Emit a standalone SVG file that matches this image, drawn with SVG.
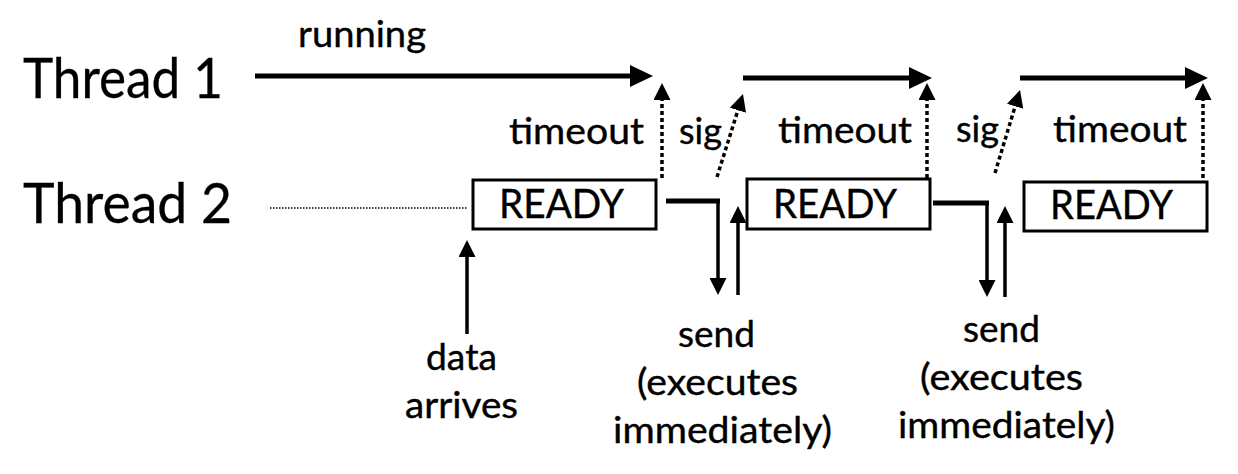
<svg xmlns="http://www.w3.org/2000/svg" width="1238" height="474" viewBox="0 0 1238 474">
  <style>
    text { font-family: Lato, "Open Sans", "Liberation Sans", sans-serif; fill: #000; stroke: #000; stroke-width: 0.4; }
    .lane { font-size: 56px; stroke-width: 0.3; }
    .lbl { font-size: 36px; }
    .rt { font-size: 40px; }
    .box { fill: #fff; stroke: #000; stroke-width: 3; }
    .run { stroke: #000; stroke-width: 5; fill: none; }
    .solid { stroke: #000; stroke-width: 3.5; fill: none; }
    .thick { stroke: #000; stroke-width: 5; fill: none; }
    .dot { stroke: #000; stroke-width: 3.5; stroke-dasharray: 4 3; fill: none; }
    .thin { stroke: #000; stroke-width: 1.3; stroke-dasharray: 1.5 1.5; fill: none; }
  </style>
  <defs>
    <marker id="bigHead" markerUnits="userSpaceOnUse" markerWidth="23" markerHeight="22" refX="2" refY="11" orient="auto" viewBox="0 0 23 22">
      <path d="M0,0 L23,11 L0,22 z" fill="#000"/>
    </marker>
    <marker id="head" markerUnits="userSpaceOnUse" markerWidth="17" markerHeight="17" refX="2" refY="8.5" orient="auto" viewBox="0 0 17 17">
      <path d="M0,0 L17,8.5 L0,17 z" fill="#000"/>
    </marker>
  </defs>

  <g id="lane-thread1">
    <text class="lane" x="23" y="98" textLength="200" lengthAdjust="spacingAndGlyphs">Thread 1</text>
  </g>
  <g id="lane-thread2">
    <text class="lane" x="23" y="223" textLength="209" lengthAdjust="spacingAndGlyphs">Thread 2</text>
  </g>

  <g id="ready1">
    <rect class="box" x="473" y="180" width="183" height="49"/>
    <text class="rt" x="499" y="218" textLength="125" lengthAdjust="spacingAndGlyphs">READY</text>
  </g>
  <g id="ready2">
    <rect class="box" x="747" y="179" width="183" height="50"/>
    <text class="rt" x="773" y="218" textLength="124" lengthAdjust="spacingAndGlyphs">READY</text>
  </g>
  <g id="ready3">
    <rect class="box" x="1024" y="182" width="183" height="49"/>
    <text class="rt" x="1050" y="219" textLength="123" lengthAdjust="spacingAndGlyphs">READY</text>
  </g>

  <g id="labels">
    <text class="lbl" x="298" y="47" textLength="128" lengthAdjust="spacingAndGlyphs">running</text>
    <text class="lbl" x="509" y="144" textLength="135" lengthAdjust="spacingAndGlyphs">timeout</text>
    <text class="lbl" x="679" y="144" textLength="43" lengthAdjust="spacingAndGlyphs">sig</text>
    <text class="lbl" x="778" y="143" textLength="134" lengthAdjust="spacingAndGlyphs">timeout</text>
    <text class="lbl" x="956" y="142" textLength="43" lengthAdjust="spacingAndGlyphs">sig</text>
    <text class="lbl" x="1053" y="142" textLength="134" lengthAdjust="spacingAndGlyphs">timeout</text>
  </g>

  <g id="data-arrives">
    <text class="lbl" x="426" y="370" textLength="71" lengthAdjust="spacingAndGlyphs">data</text>
    <text class="lbl" x="405" y="418" textLength="113" lengthAdjust="spacingAndGlyphs">arrives</text>
  </g>
  <g id="send1">
    <text class="lbl" x="678" y="347" textLength="77" lengthAdjust="spacingAndGlyphs">send</text>
    <text class="lbl" x="637" y="395" textLength="161" lengthAdjust="spacingAndGlyphs">(executes</text>
    <text class="lbl" x="613" y="443" textLength="219" lengthAdjust="spacingAndGlyphs">immediately)</text>
  </g>
  <g id="send2">
    <text class="lbl" x="963" y="342" textLength="77" lengthAdjust="spacingAndGlyphs">send</text>
    <text class="lbl" x="920" y="390" textLength="163" lengthAdjust="spacingAndGlyphs">(executes</text>
    <text class="lbl" x="898" y="438" textLength="217" lengthAdjust="spacingAndGlyphs">immediately)</text>
  </g>

  <g id="connectors">
    <line class="run" x1="255" y1="76" x2="632" y2="76" marker-end="url(#bigHead)"/>
    <line class="run" x1="743" y1="78" x2="911" y2="78" marker-end="url(#bigHead)"/>
    <line class="run" x1="1020" y1="78" x2="1187" y2="78" marker-end="url(#bigHead)"/>
    <line class="dot" x1="662" y1="178" x2="662" y2="98" marker-end="url(#head)"/>
    <line class="dot" x1="927" y1="178" x2="927" y2="98" marker-end="url(#head)"/>
    <line class="dot" x1="1203" y1="178" x2="1203" y2="98" marker-end="url(#head)"/>
    <line class="dot" x1="717" y1="177" x2="738.5" y2="108.3" marker-end="url(#head)"/>
    <line class="dot" x1="995" y1="173" x2="1015.7" y2="104.4" marker-end="url(#head)"/>
    <line class="thin" x1="270" y1="208" x2="468" y2="208"/>
    <line class="solid" x1="467" y1="334" x2="467" y2="255" marker-end="url(#head)"/>
    <line class="thick" x1="666" y1="201" x2="720" y2="201"/>
    <line class="solid" x1="718" y1="199" x2="718" y2="280" marker-end="url(#head)"/>
    <line class="solid" x1="738" y1="295" x2="738" y2="221" marker-end="url(#head)"/>
    <line class="thick" x1="933" y1="203" x2="989" y2="203"/>
    <line class="solid" x1="987" y1="201" x2="987" y2="282" marker-end="url(#head)"/>
    <line class="solid" x1="1005" y1="297" x2="1005" y2="221" marker-end="url(#head)"/>
  </g>
</svg>
